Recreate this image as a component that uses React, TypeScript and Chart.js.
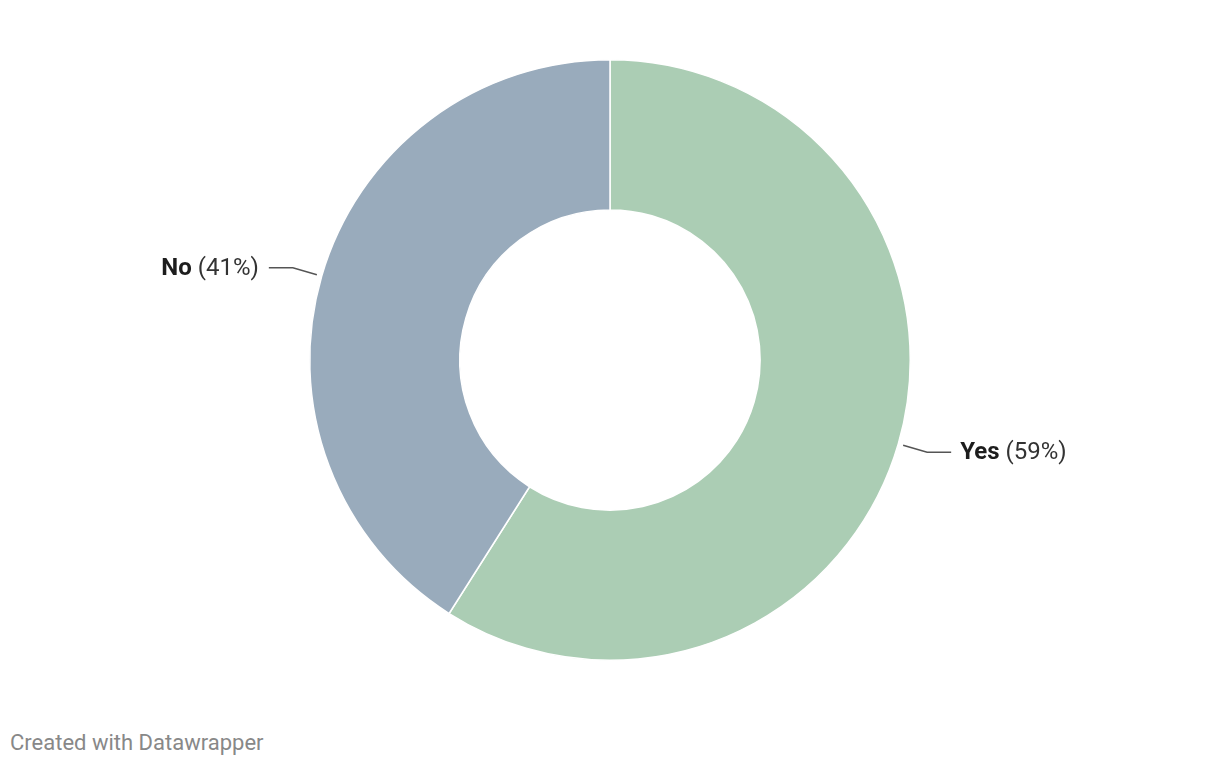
import React, { useEffect, useRef } from "react";
import { Chart, registerables } from "chart.js";

Chart.register(...registerables);

const categories: string[] = ["Yes", "No"];
const values: number[] = [59, 41];
const sliceColors: string[] = ["#abcdb4", "#99abbc"];

const labelPlugin = {
  id: "dwLabels",
  afterDraw(chart: any) {
    const ctx = chart.ctx;
    const meta = chart.getDatasetMeta(0);
    const total = values.reduce((a, b) => a + b, 0);
    meta.data.forEach((arc: any, i: number) => {
      const { x, y, startAngle, endAngle, outerRadius } = arc.getProps(
        ["x", "y", "startAngle", "endAngle", "outerRadius"],
        true
      );
      const mid = (startAngle + endAngle) / 2;
      const cos = Math.cos(mid);
      const sin = Math.sin(mid);
      const right = cos >= 0;
      const r0 = outerRadius + 5;
      const r1 = outerRadius * 1.1;
      const x0 = x + cos * r0;
      const y0 = y + sin * r0;
      const x1 = x + cos * r1;
      const y1 = y + sin * r1;
      const x2 = x1 + (right ? 24 : -24);
      ctx.save();
      ctx.strokeStyle = "#555555";
      ctx.lineWidth = 1.5;
      ctx.beginPath();
      ctx.moveTo(x0, y0);
      ctx.lineTo(x1, y1);
      ctx.lineTo(x2, y1);
      ctx.stroke();

      const pct = Math.round((values[i] / total) * 100);
      const name = categories[i];
      const rest = " (" + pct + "%)";
      const boldFont = "bold 24px Roboto";
      const regFont = "24px Roboto";
      ctx.font = boldFont;
      const wName = ctx.measureText(name).width;
      ctx.font = regFont;
      const wRest = ctx.measureText(rest).width;
      const tx = right ? x2 + 9 : x2 - 10 - wName - wRest;
      ctx.textBaseline = "middle";
      ctx.textAlign = "left";
      ctx.font = boldFont;
      ctx.fillStyle = "#1d1d1d";
      ctx.fillText(name, tx, y1 + 1);
      ctx.font = regFont;
      ctx.fillStyle = "#333333";
      ctx.fillText(rest, tx + wName, y1 + 1);
      ctx.restore();
    });
  },
};

export default function App() {
  const canvasRef = useRef<HTMLCanvasElement | null>(null);

  useEffect(() => {
    if (!canvasRef.current) return;
    const chart = new Chart(canvasRef.current, {
      type: "doughnut",
      data: {
        labels: categories,
        datasets: [
          {
            data: values,
            backgroundColor: sliceColors,
            borderColor: "#ffffff",
            borderWidth: 1.5,
            hoverOffset: 0,
          },
        ],
      },
      options: {
        responsive: true,
        maintainAspectRatio: false,
        animation: false,
        cutout: "50%",
        layout: { padding: { top: 59, bottom: 59, left: 0, right: 0 } },
        plugins: {
          legend: { display: false },
          tooltip: { enabled: false },
        },
      },
      plugins: [labelPlugin],
    });
    return () => chart.destroy();
  }, []);

  return (
    <div
      style={{
        position: "fixed",
        left: 0,
        top: 0,
        width: 1220,
        height: 766,
        background: "#ffffff",
        fontFamily: "Roboto, sans-serif",
      }}
    >
      <div style={{ position: "absolute", left: 0, top: 0, width: 1220, height: 720 }}>
        <canvas ref={canvasRef} />
      </div>
      <div
        style={{
          position: "absolute",
          left: 10,
          top: 730,
          fontSize: 22,
          color: "#888888",
          lineHeight: "26px",
        }}
      >
        Created with Datawrapper
      </div>
    </div>
  );
}
